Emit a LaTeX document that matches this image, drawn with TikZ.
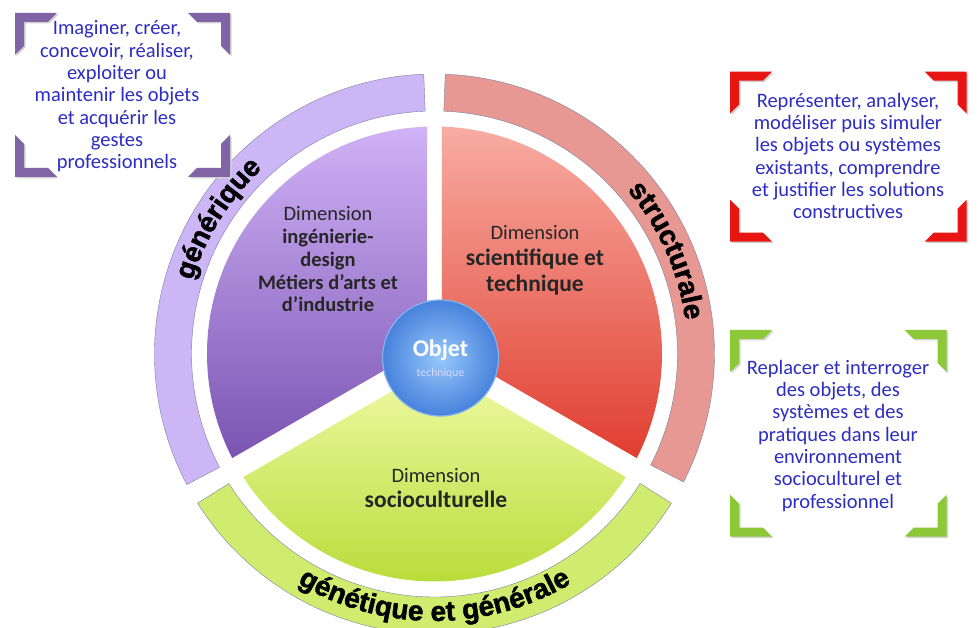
\documentclass[tikz,border=0pt]{standalone}
\usepackage{fontspec}
\setmainfont{Carlito}
\newfontfamily\ringfont[BoldFeatures={FakeBold=1.6}]{Liberation Sans}
\usetikzlibrary{decorations.text}

\definecolor{txtBlue}{RGB}{45,45,195}
\definecolor{brkPurple}{RGB}{128,100,165}
\definecolor{brkRed}{RGB}{232,22,18}
\definecolor{brkGreen}{RGB}{140,200,55}
\definecolor{ringEdge}{RGB}{120,130,165}

% four corner brackets round a text: (left,bottom,right,top){colour}
\def\corners(#1,#2,#3,#4)#5{%
	\foreach \cx/\cy/\sx/\sy in {#1/#2/1/1,#3/#2/-1/1,#1/#4/1/-1,#3/#4/-1/-1}{%
		\fill[gray!35,shift={(\cx+1.5,\cy-1.5)},xscale=\sx,yscale=\sy] (0,0) -- (42,0) -- (33,9) -- (9,9) -- (9,33) -- (0,42) -- cycle;
		\fill[#5,shift={(\cx,\cy)},xscale=\sx,yscale=\sy] (0,0) -- (42,0) -- (33,9) -- (9,9) -- (9,33) -- (0,42) -- cycle;
	}}
% curved label on a ring: start angle, end angle, radius, text
\def\ringlabel#1#2#3#4{\path[decorate,decoration={text along path,text align=center,
		text={|\ringfont\bfseries\fontsize{28}{28}\selectfont|#4}}] (#1:#3) arc[start angle=#1,end angle=#2,radius=#3];}

\begin{document}
\begin{tikzpicture}[x=1pt,y=1pt,
	boxtext/.style={align=center,text=txtBlue,inner sep=0pt,font=\fontsize{20.5}{22.3}\selectfont},
	secttext/.style={align=center,text=black!85,inner sep=0pt,font=\fontsize{20.5}{22.75}\selectfont}]
	%%%%% START %%%%%
	
	\useasboundingbox[fill=white] (0,0) rectangle (977,628);
	
	\begin{scope}[shift={(434.5,274)}]
		% outer rings
		\draw[ringEdge,fill={rgb,255:red,205;green,182;blue,245}] (92.2:243) arc[start angle=92.2,end angle=207.8,radius=243] -- (207.8:280) arc[start angle=207.8,end angle=92.2,radius=280] -- cycle;
		\draw[ringEdge,fill={rgb,255:red,232;green,152;blue,146}] (-27.2:243) arc[start angle=-27.2,end angle=87.8,radius=243] -- (87.8:280) arc[start angle=87.8,end angle=-27.2,radius=280] -- cycle;
		\draw[ringEdge,fill={rgb,255:red,208;green,236;blue,110}] (212.2:243) arc[start angle=212.2,end angle=327.8,radius=243] -- (327.8:280) arc[start angle=327.8,end angle=212.2,radius=280] -- cycle;
		
		% sectors
		\shade[top color={rgb,255:red,208;green,178;blue,246},bottom color={rgb,255:red,122;green,84;blue,178}] (-7.3,8.49) -- (91.84:227.5) arc[start angle=91.84,end angle=207.23,radius=227.5] -- cycle;
		\shade[top color={rgb,255:red,248;green,172;blue,162},bottom color={rgb,255:red,224;green,62;blue,48}] (7.3,8.49) -- (88.16:227.5) arc[start angle=88.16,end angle=-27.23,radius=227.5] -- cycle;
		\shade[top color={rgb,255:red,240;green,250;blue,165},bottom color={rgb,255:red,184;green,220;blue,58}] (0,-12.7) -- (212.77:227.5) arc[start angle=212.77,end angle=327.23,radius=227.5] -- cycle;
		
		% centre
		\shade[inner color={rgb,255:red,150;green,200;blue,250},outer color={rgb,255:red,72;green,130;blue,220}] (6,-4) circle (58);
		\draw[line width=1.2pt,color={rgb,255:red,130;green,180;blue,240}] (6,-4) circle (58);
		\node[text=white,font=\bfseries\fontsize{24}{24}\selectfont] (objet) at (6,4) {Objet};
		\node[text=white!85!blue,font=\fontsize{11.7}{12}\selectfont] (objetSub) at (6,-19) {technique};
		
		% ring labels
		\ringlabel{180}{116}{253}{générique}
		\ringlabel{54}{-6}{253}{structurale}
		\ringlabel{225}{315}{267}{génétique et générale}
	\end{scope}
	
	\node[secttext] (dimIng) at (328,368.5) {Dimension\\ \textbf{ingénierie-}\\ \textbf{design}\\ \textbf{Métiers d’arts et}\\ \textbf{d’industrie}};
	\node[secttext,font=\fontsize{23.5}{25.8}\selectfont] (dimSci) at (535,367.7) {{\fontsize{20.5}{25.8}\selectfont Dimension}\\ \textbf{scientifique et}\\ \textbf{technique}};
	\node[secttext,font=\fontsize{23.5}{25}\selectfont] (dimSoc) at (436,139.5) {{\fontsize{20.5}{25}\selectfont Dimension}\\ \textbf{socioculturelle}};
	
	% framed texts
	\corners(15,451,230,615){brkPurple}
	\node[boxtext] (txtGen) at (117,531.5) {Imaginer, créer,\\ concevoir, réaliser,\\ exploiter ou\\ maintenir les objets\\ et acquérir les\\ gestes\\ professionnels};
	
	\corners(730,386.3,966.7,556.3){brkRed}
	\node[boxtext] (txtStruct) at (848,472) {Représenter, analyser,\\ modéliser puis simuler\\ les objets ou systèmes\\ existants, comprendre\\ et justifier les solutions\\ constructives};
	
	\corners(730,91.3,946.7,298){brkGreen}
	\node[boxtext] (txtSocio) at (838,192.3) {Replacer et interroger\\ des objets, des\\ systèmes et des\\ pratiques dans leur\\ environnement\\ socioculturel et\\ professionnel};
	
	%%%%% END %%%%%
\end{tikzpicture}
\end{document}
